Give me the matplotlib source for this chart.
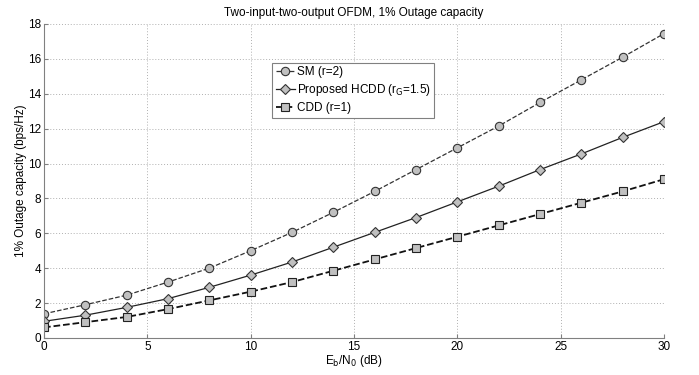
import matplotlib
matplotlib.use('Agg')
import matplotlib.pyplot as plt

plt.rcParams['font.family'] = ['Liberation Sans', 'DejaVu Sans']

# Eb/N0 points (dB) and 1% outage capacity (bps/Hz)
snr_db = [0, 2, 4, 6, 8, 10, 12, 14, 16, 18, 20, 22, 24, 26, 28, 30]
cap_sm = [1.38, 1.9, 2.45, 3.2, 4.0, 5.0, 6.05, 7.2, 8.4, 9.65, 10.9, 12.15, 13.5, 14.8, 16.1, 17.45]
cap_hcdd = [0.95, 1.3, 1.75, 2.25, 2.9, 3.6, 4.35, 5.2, 6.05, 6.9, 7.8, 8.7, 9.65, 10.55, 11.5, 12.4]
cap_cdd = [0.6, 0.9, 1.2, 1.65, 2.15, 2.65, 3.2, 3.85, 4.5, 5.15, 5.8, 6.45, 7.1, 7.75, 8.4, 9.1]

fig = plt.figure(figsize=(6.99, 3.75), dpi=100)
ax = fig.add_axes([0.063, 0.099, 0.887, 0.837])

face = '#c0c0c0'
ax.plot(snr_db, cap_sm, '--', color='#333333', lw=0.9, marker='o', ms=6,
        mfc=face, mec='#333333', mew=0.8, label='SM (r=2)')
ax.plot(snr_db, cap_hcdd, '-', color='#222222', lw=0.9, marker='D', ms=5,
        mfc=face, mec='#333333', mew=0.8, label='Proposed HCDD (r$_\\mathrm{G}$=1.5)')
ax.plot(snr_db, cap_cdd, '--', color='#111111', lw=1.3, marker='s', ms=6,
        mfc=face, mec='#222222', mew=0.8, label='CDD (r=1)')

ax.set_xlim(0, 30)
ax.set_ylim(0, 18)
ax.set_xticks([0, 5, 10, 15, 20, 25, 30])
ax.set_yticks(range(0, 19, 2))
ax.tick_params(labelsize=8.5, direction='in', length=3, color='#808080', pad=2)
ax.grid(True, linestyle=(0, (1, 2)), color='#b0b0b0', lw=0.7)
for side in ('top', 'right'):
    ax.spines[side].set_visible(False)
for side in ('left', 'bottom'):
    ax.spines[side].set_color('#808080')

ax.set_xlabel('E$_\\mathrm{b}$/N$_\\mathrm{0}$ (dB)', fontsize=8.5, labelpad=0)
ax.set_ylabel('1% Outage capacity (bps/Hz)', fontsize=8.5, labelpad=1)
ax.set_title('Two-input-two-output OFDM, 1% Outage capacity', fontsize=8.5, pad=6)

leg = ax.legend(loc='upper left', bbox_to_anchor=(0.368, 0.877), fontsize=8.5,
                fancybox=False, framealpha=1, edgecolor='#808080',
                handlelength=1.6, handletextpad=0.2, borderpad=0.3,
                labelspacing=0.35, borderaxespad=0)
leg.get_frame().set_linewidth(0.8)

fig.savefig('out.png', dpi=100)
